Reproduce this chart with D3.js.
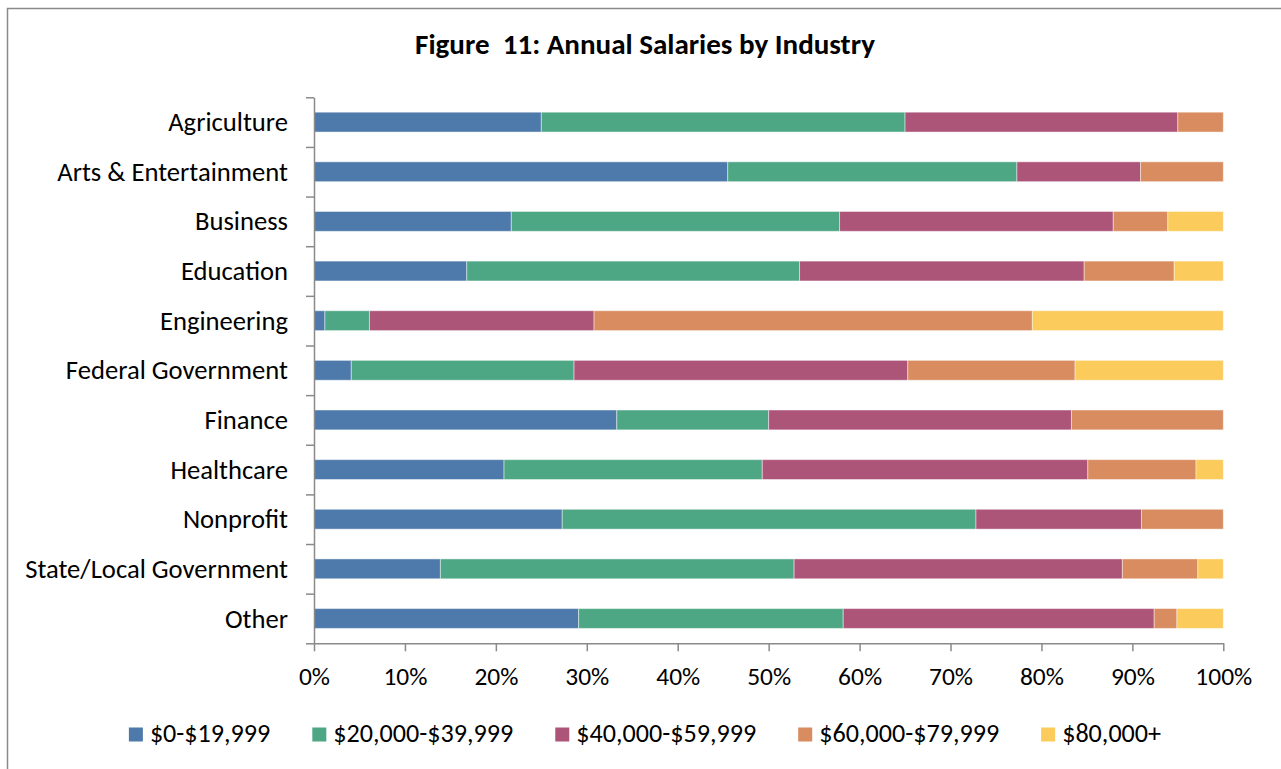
<!DOCTYPE html>
<html>
<head>
<meta charset="utf-8">
<script src="https://cdn.jsdelivr.net/npm/d3@7"></script>
<style>
  html, body { margin: 0; padding: 0; background: #fff; }
  svg { display: block; font-family: Carlito, Calibri, "Open Sans", sans-serif; }
</style>
</head>
<body>
<svg id="chart" width="1281" height="769"></svg>
<script>
// Industries, top to bottom
const industries = [
  "Agriculture", "Arts & Entertainment", "Business", "Education", "Engineering",
  "Federal Government", "Finance", "Healthcare", "Nonprofit",
  "State/Local Government", "Other"
];

// Salary bands (stack order, left to right)
const salaryBands = ["$0-$19,999", "$20,000-$39,999", "$40,000-$59,999", "$60,000-$79,999", "$80,000+"];
const bandColors = ["#4e7aab", "#4ea784", "#ad5479", "#d98c5f", "#fbcb5b"];

// Share of respondents (%) in each salary band, one value per industry
const band0to20k  = [25.0, 45.5, 21.7, 16.8,  1.2,  4.1, 33.3, 20.9, 27.3, 13.9, 29.1];
const band20to40k = [40.0, 31.8, 36.1, 36.6,  4.9, 24.5, 16.7, 28.4, 45.5, 38.9, 29.1];
const band40to60k = [30.0, 13.6, 30.1, 31.3, 24.7, 36.7, 33.3, 35.8, 18.2, 36.1, 34.2];
const band60to80k = [ 5.0,  9.1,  6.0,  9.9, 48.2, 18.4, 16.7, 11.9,  9.0,  8.3,  2.5];
const band80kPlus = [ 0.0,  0.0,  6.1,  5.4, 21.0, 16.3,  0.0,  3.0,  0.0,  2.8,  5.1];

const xTicks = [0, 0.1, 0.2, 0.3, 0.4, 0.5, 0.6, 0.7, 0.8, 0.9, 1.0];

const seriesValues = [band0to20k, band20to40k, band40to60k, band60to80k, band80kPlus];
const rows = industries.map((name, i) => {
  const row = { industry: name };
  salaryBands.forEach((b, k) => { row[b] = seriesValues[k][i]; });
  return row;
});

const stacked = d3.stack().keys(salaryBands).offset(d3.stackOffsetExpand)(rows);

const svg = d3.select("#chart");
const plot = { left: 314, right: 1223.3, top: 97.3, bottom: 643.3 };
const axisColor = "#8a8a8a";

// Font size that makes a sample string span a given width
function fitSize(sample, width, weight) {
  const t = svg.append("text").attr("font-size", 100).attr("font-weight", weight || "normal")
    .style("white-space", "pre").text(sample);
  const w = t.node().getComputedTextLength();
  t.remove();
  return 100 * width / w;
}
const labelSize = fitSize("State/Local Government", 263);
const tickSize = fitSize("10%", 44);
const legendSize = fitSize("$60,000-$79,999", 180);
const titleSize = fitSize("Figure  11: Annual Salaries by Industry", 460, "bold");

// Outer frame
svg.append("path")
  .attr("d", `M7.5,769 V8.5 H1281`)
  .attr("fill", "none")
  .attr("stroke", axisColor)
  .attr("stroke-width", 1.5);

// Title
svg.append("text")
  .attr("x", 645)
  .attr("y", 54)
  .attr("text-anchor", "middle")
  .style("white-space", "pre")
  .attr("font-size", titleSize)
  .attr("font-weight", "bold")
  .attr("fill", "#000")
  .text("Figure  11: Annual Salaries by Industry");

const x = d3.scaleLinear().domain([0, 1]).range([plot.left, plot.right]);
const y = d3.scaleBand().domain(industries).range([plot.top, plot.bottom])
  .paddingInner(0.6).paddingOuter(0.3);

// Stacked bars
svg.append("g")
  .selectAll("g")
  .data(stacked)
  .join("g")
    .attr("fill", (d, i) => bandColors[i])
  .selectAll("rect")
  .data(d => d.filter(s => s[1] - s[0] > 0))
  .join("rect")
    .attr("x", d => x(d[0]))
    .attr("width", d => x(d[1]) - x(d[0]))
    .attr("y", d => y(d.data.industry))
    .attr("height", y.bandwidth())
    .attr("stroke", "#ffffff")
    .attr("stroke-opacity", 0.45)
    .attr("stroke-width", 1);

// Category axis: ticks at band boundaries, labels at band centres
const boundary = d3.scaleLinear().domain([0, industries.length]).range([plot.top, plot.bottom]);
const yTickAxis = svg.append("g")
  .attr("transform", `translate(${plot.left},0)`)
  .call(d3.axisLeft(boundary).tickValues(d3.range(industries.length + 1)).tickSize(8).tickSizeOuter(0).tickFormat(""));
yTickAxis.selectAll("path, line").attr("stroke", axisColor).attr("stroke-width", 1.5);

const yLabelAxis = svg.append("g")
  .attr("transform", `translate(${plot.left},0)`)
  .call(d3.axisLeft(y).tickSize(0).tickPadding(26));
yLabelAxis.select(".domain").remove();
yLabelAxis.selectAll("text")
  .attr("font-size", labelSize)
  .attr("fill", "#000")
  .attr("dy", "0.34em");

// Percentage axis
const xAxis = svg.append("g")
  .attr("transform", `translate(0,${plot.bottom})`)
  .call(d3.axisBottom(x).tickValues(xTicks).tickFormat(d3.format(".0%")).tickSize(8).tickSizeOuter(0).tickPadding(16));
xAxis.selectAll("path, line").attr("stroke", axisColor).attr("stroke-width", 1.5);
xAxis.selectAll("text")
  .attr("font-size", tickSize)
  .attr("fill", "#000");
[xAxis, yTickAxis, yLabelAxis].forEach(g => g.attr("font-family", null).attr("font-size", null));

// Legend, centred under the chart
const legend = svg.append("g");
const items = legend.selectAll("g").data(salaryBands).join("g");
items.append("rect")
  .attr("width", 14).attr("height", 14)
  .attr("y", 727.5)
  .attr("fill", (d, i) => bandColors[i]);
items.append("text")
  .attr("x", 21)
  .attr("y", 742)
  .attr("font-size", legendSize)
  .attr("fill", "#000")
  .text(d => d);
let cursor = 0;
const offsets = [];
items.each(function () {
  const w = d3.select(this).select("text").node().getComputedTextLength();
  offsets.push(cursor);
  cursor += 21 + w + 42;
});
const totalWidth = cursor - 42;
const startX = 645 - totalWidth / 2;
items.attr("transform", (d, i) => `translate(${startX + offsets[i]},0)`);
</script>
</body>
</html>
